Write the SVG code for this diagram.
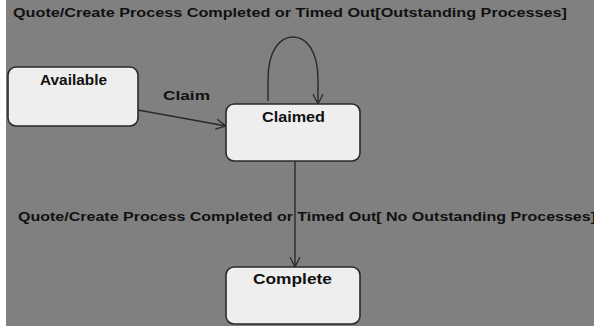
<svg xmlns="http://www.w3.org/2000/svg" width="594" height="326" viewBox="0 0 594 326">
  <style>
    .state { fill: #eeeeee; stroke: #2a2a2a; stroke-width: 1.6; }
    .title { font-family: "Liberation Sans", Arial, sans-serif; font-size: 14px; font-weight: bold; fill: #111; text-anchor: middle; }
    .label { font-family: "Liberation Sans", Arial, sans-serif; font-size: 13px; font-weight: bold; fill: #111; }
    .edge { fill: none; stroke: #2a2a2a; stroke-width: 1.4; }
  </style>
  <defs>
    <marker id="open" viewBox="0 0 12 12" refX="11" refY="6" markerWidth="12" markerHeight="12" markerUnits="userSpaceOnUse" orient="auto">
      <path d="M1,1 L11,6 L1,11" fill="none" stroke="#2a2a2a" stroke-width="1.3"/>
    </marker>
  </defs>
  <rect x="0" y="0" width="594" height="326" fill="#ffffff"/>
  <rect x="6" y="0" width="588" height="326" fill="#808080"/>

  <g id="edges">
    <path class="edge" d="M138,110 L226,126" marker-end="url(#open)"/>
    <path class="edge" d="M268,101 L268,80 C268,50 280,37 293,37 C306,37 318,50 318,80 L318,104" marker-end="url(#open)"/>
    <path class="edge" d="M295,161 L295,267" marker-end="url(#open)"/>
    <text class="label" x="163" y="100" textLength="47" lengthAdjust="spacingAndGlyphs">Claim</text>
    <text class="label" x="13" y="17" textLength="554" lengthAdjust="spacingAndGlyphs">Quote/Create Process Completed or Timed Out[Outstanding Processes]</text>
    <text class="label" x="18" y="221" textLength="578" lengthAdjust="spacingAndGlyphs">Quote/Create Process Completed or Timed Out[ No Outstanding Processes]</text>
  </g>

  <g id="available">
    <rect class="state" x="8" y="67" width="130" height="59" rx="8"/>
    <text class="title" x="73.5" y="85" textLength="67" lengthAdjust="spacingAndGlyphs">Available</text>
  </g>
  <g id="claimed">
    <rect class="state" x="226" y="104" width="134" height="57" rx="8"/>
    <text class="title" x="293.5" y="122" textLength="63" lengthAdjust="spacingAndGlyphs">Claimed</text>
  </g>
  <g id="complete">
    <rect class="state" x="226" y="267" width="134" height="57" rx="8"/>
    <text class="title" x="292.5" y="284" textLength="79" lengthAdjust="spacingAndGlyphs">Complete</text>
  </g>
</svg>
